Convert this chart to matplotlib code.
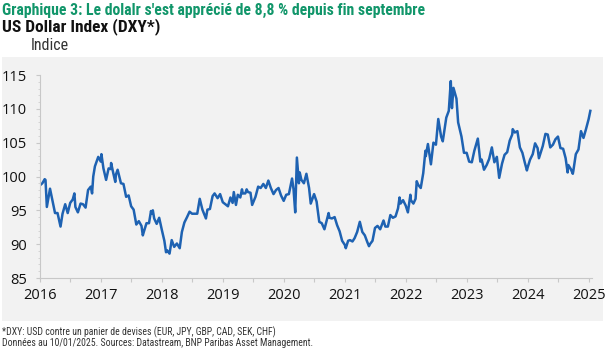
import matplotlib
matplotlib.use("Agg")
import matplotlib.pyplot as plt
import matplotlib.dates as mdates
from matplotlib.patches import Rectangle
from matplotlib.ticker import MultipleLocator
from matplotlib import font_manager
import pandas as pd

dates_2016 = ["2016-01-01","2016-01-15","2016-01-29","2016-02-03","2016-02-11","2016-02-25","2016-03-01","2016-03-15","2016-03-31",
              "2016-04-15","2016-04-29","2016-05-03","2016-05-15","2016-05-31","2016-06-15","2016-06-24","2016-06-30",
              "2016-07-15","2016-07-25","2016-07-31","2016-08-15","2016-08-31","2016-09-15","2016-09-30","2016-10-15",
              "2016-10-31","2016-11-08","2016-11-15","2016-11-25","2016-12-15","2016-12-30"]
vals_2016 = [98.7,99.0,99.6,99.5,95.5,97.5,98.2,96.5,94.6,
             94.6,93.1,92.6,94.5,95.9,94.6,95.5,96.1,
             96.6,97.5,95.5,94.7,96.0,95.9,95.4,98.0,
             98.5,97.5,100.0,101.5,102.9,102.2]

dates_2017 = ["2017-01-03","2017-01-15","2017-01-31","2017-02-15","2017-02-28","2017-03-02","2017-03-15","2017-03-27","2017-03-31",
              "2017-04-10","2017-04-30","2017-05-15","2017-05-31","2017-06-15","2017-06-30","2017-07-15","2017-07-31",
              "2017-08-15","2017-08-31","2017-09-08","2017-09-15","2017-09-30","2017-10-15","2017-10-27","2017-10-31",
              "2017-11-07","2017-11-15","2017-11-30","2017-12-15","2017-12-31"]
vals_2017 = [103.3,101.2,99.5,101.2,101.1,102.0,100.5,99.2,100.3,
             101.0,99.0,98.9,97.0,97.2,95.6,95.1,92.9,
             93.4,92.7,91.3,91.9,93.1,93.1,94.9,94.5,
             95.0,93.8,93.0,93.9,92.1]

dates_2018 = ["2018-01-15","2018-01-25","2018-01-31","2018-02-15","2018-02-28","2018-03-15","2018-03-31","2018-04-17","2018-04-30",
              "2018-05-15","2018-05-31","2018-06-15","2018-06-30","2018-07-15","2018-07-31","2018-08-15","2018-08-31",
              "2018-09-21","2018-09-30","2018-10-15","2018-10-31","2018-11-12","2018-11-30","2018-12-15","2018-12-31"]
vals_2018 = [90.5,88.8,89.1,88.6,90.6,89.6,90.1,89.4,91.8,
             93.2,94.0,94.8,94.5,94.5,94.5,96.7,95.1,
             93.8,95.1,95.2,97.1,97.5,96.8,97.4,96.2]

dates_2019 = ["2019-01-15","2019-01-31","2019-02-15","2019-02-28","2019-03-07","2019-03-20","2019-03-31","2019-04-15","2019-04-25",
              "2019-04-30","2019-05-15","2019-05-23","2019-05-31","2019-06-15","2019-06-25","2019-06-30","2019-07-15",
              "2019-07-31","2019-08-15","2019-08-31","2019-09-15","2019-09-30","2019-10-15","2019-10-31","2019-11-15",
              "2019-11-30","2019-12-15","2019-12-31"]
vals_2019 = [95.9,95.6,96.9,96.1,97.7,95.8,97.3,96.9,98.1,
             97.5,97.5,98.1,97.7,97.6,95.8,96.1,97.0,
             98.5,98.3,98.9,98.3,99.4,98.3,97.4,98.0,
             98.3,97.2,96.4]

dates_2020 = ["2020-01-15","2020-01-31","2020-02-19","2020-02-28","2020-03-09","2020-03-19","2020-03-31","2020-04-05","2020-04-15",
              "2020-04-30","2020-05-15","2020-05-31","2020-06-10","2020-06-30","2020-07-15","2020-07-31","2020-08-15",
              "2020-08-31","2020-09-25","2020-09-30","2020-10-15","2020-10-31","2020-11-15","2020-11-30","2020-12-15",
              "2020-12-31"]
vals_2020 = [97.3,97.4,99.7,98.1,94.7,102.8,99.0,100.6,99.5,
             99.0,100.4,98.3,96.0,97.4,96.3,93.3,93.1,
             92.2,94.6,93.9,93.8,94.0,92.8,91.9,90.5,
             89.9]

dates_2021 = ["2021-01-06","2021-01-20","2021-01-31","2021-02-15","2021-02-28","2021-03-15","2021-03-31","2021-04-15","2021-04-30",
              "2021-05-15","2021-05-25","2021-05-31","2021-06-15","2021-06-30","2021-07-15","2021-07-31","2021-08-20",
              "2021-08-31","2021-09-15","2021-09-30","2021-10-15","2021-10-31","2021-11-15","2021-11-24","2021-11-30",
              "2021-12-15","2021-12-31"]
vals_2021 = [89.4,90.5,90.6,90.4,90.9,91.8,93.3,91.8,91.3,
             90.3,89.7,90.0,90.5,92.4,92.7,92.2,93.5,
             92.6,92.6,94.3,93.9,94.1,95.3,96.9,96.0,
             96.5,95.7]

dates_2022 = ["2022-01-13","2022-01-28","2022-01-31","2022-02-15","2022-02-28","2022-03-07","2022-03-15","2022-03-31","2022-04-15",
              "2022-04-28","2022-04-30","2022-05-13","2022-05-31","2022-06-15","2022-06-30","2022-07-14","2022-07-31",
              "2022-08-10","2022-08-31","2022-09-15","2022-09-27","2022-09-30","2022-10-04","2022-10-13","2022-10-31",
              "2022-11-10","2022-11-30","2022-12-15","2022-12-31"]
vals_2022 = [94.7,97.3,96.5,96.0,96.7,99.3,98.8,98.3,100.5,
             103.8,103.0,104.8,101.8,105.0,104.7,108.5,105.9,
             105.2,108.7,109.7,114.1,112.1,110.1,113.1,111.5,
             108.0,105.9,103.5,103.5]

dates_2023 = ["2023-01-15","2023-01-31","2023-02-15","2023-02-28","2023-03-08","2023-03-23","2023-03-31","2023-04-14","2023-04-30",
              "2023-05-15","2023-05-31","2023-06-15","2023-06-30","2023-07-14","2023-07-31","2023-08-15","2023-08-31",
              "2023-09-15","2023-09-30","2023-10-03","2023-10-15","2023-10-31","2023-11-15","2023-11-30","2023-12-15",
              "2023-12-27","2023-12-31"]
vals_2023 = [102.2,102.1,103.8,104.9,105.6,102.2,102.5,101.0,101.7,
             102.6,104.3,102.1,102.9,99.8,101.9,103.2,103.6,
             105.3,106.2,107.0,106.5,106.7,104.3,103.5,102.0,
             100.9,101.3]

dates_2024 = ["2024-01-15","2024-01-31","2024-02-14","2024-02-29","2024-03-08","2024-03-31","2024-04-16","2024-04-30","2024-05-15",
              "2024-05-31","2024-06-15","2024-06-30","2024-07-15","2024-07-31","2024-08-15","2024-08-27","2024-08-31",
              "2024-09-15","2024-09-27","2024-09-30","2024-10-15","2024-10-31","2024-11-15","2024-11-30","2024-12-15",
              "2024-12-31","2025-01-10"]
vals_2024 = [102.5,103.3,104.9,104.2,102.7,104.5,106.3,106.2,104.3,
             104.7,105.5,105.9,104.2,104.1,102.7,100.6,101.7,
             101.1,100.4,100.8,103.3,104.0,106.7,105.7,107.0,
             108.5,109.7]

dates = (dates_2016 + dates_2017 + dates_2018 + dates_2019 + dates_2020 +
         dates_2021 + dates_2022 + dates_2023 + dates_2024)
values = (vals_2016 + vals_2017 + vals_2018 + vals_2019 + vals_2020 +
          vals_2021 + vals_2022 + vals_2023 + vals_2024)

year_ticks = [str(y) for y in range(2016, 2026)]
y_ticks = [85, 90, 95, 100, 105, 110, 115]

title = "Graphique 3: Le dolalr s'est apprécié de 8,8 % depuis fin septembre"
subtitle = "US Dollar Index (DXY*)"
unit = "Indice"
note1 = "*DXY: USD contre un panier de devises (EUR, JPY, GBP, CAD, SEK, CHF)"
note2 = "Données au 10/01/2025. Sources: Datastream, BNP Paribas Asset Management."

available = {f.name for f in font_manager.fontManager.ttflist}
narrow = next((n for n in ['Liberation Sans Narrow', 'Roboto Condensed', 'Open Sans Condensed',
                           'DejaVu Sans Condensed', 'Roboto', 'Lato'] if n in available), 'DejaVu Sans')
regular = next((n for n in ['Open Sans', 'Lato', 'Noto Sans'] if n in available), 'DejaVu Sans')
plt.rcParams['font.family'] = [narrow, 'DejaVu Sans']

W, H = 605, 350
fig = plt.figure(figsize=(W/100, H/100), dpi=100)
fig.patch.set_facecolor("white")
fig.patches.append(Rectangle((2/W, 1-321/H), 601/W, (321-57)/H, transform=fig.transFigure,
                             facecolor="#f2f2f2", edgecolor="none", zorder=-5))

ax = fig.add_axes([40/W, 1-278/H, (592-40)/W, (278-75)/H])
ax.set_zorder(2)
ax.set_facecolor("none")
x = pd.to_datetime(dates)
ax.plot(x, values, color="#1e62b2", lw=1.8, solid_joinstyle="round")

ax.set_ylim(85, 115)
ax.set_yticks(y_ticks)
ax.yaxis.set_minor_locator(MultipleLocator(1))
ax.set_xlim(pd.Timestamp("2016-01-01"), pd.Timestamp("2025-01-20"))
ax.set_xticks(pd.to_datetime([y + "-01-01" for y in year_ticks]))
ax.set_xticklabels(year_ticks)
ax.xaxis.set_minor_locator(mdates.MonthLocator(bymonth=7))

for s in ["top", "right"]:
    ax.spines[s].set_visible(False)
for s in ["left", "bottom"]:
    ax.spines[s].set_color("#c8c8c8")
    ax.spines[s].set_linewidth(0.8)
ax.tick_params(axis="both", which="major", labelsize=10.5, colors="#c8c8c8",
               labelcolor="#111111", length=3, width=0.8, direction="out")
ax.tick_params(axis="y", which="minor", length=1.5, width=0.6, colors="#d0d0d0")
ax.tick_params(axis="x", which="minor", length=3, width=0.8, colors="#c8c8c8")
ax.tick_params(axis="y", pad=6.5)
ax.tick_params(axis="x", pad=4)
for lab in ax.get_xticklabels() + ax.get_yticklabels():
    lab.set_fontfamily([regular, 'DejaVu Sans'])

fig.text(2/W, 1-10/H, title, color="#11966a", fontsize=11.3, fontweight="bold", va="center", ha="left")
fig.text(2/W, 1-27/H, subtitle, color="#111111", fontsize=12.5, fontweight="bold", va="center", ha="left")
fig.text(31/W, 1-45/H, unit, color="#333333", fontsize=11.5, va="center", ha="left")
fig.text(2/W, 1-332/H, note1, color="#333333", fontsize=7, va="center", ha="left")
fig.text(2/W, 1-343/H, note2, color="#333333", fontsize=7, va="center", ha="left")

fig.savefig("out.png", dpi=100)
